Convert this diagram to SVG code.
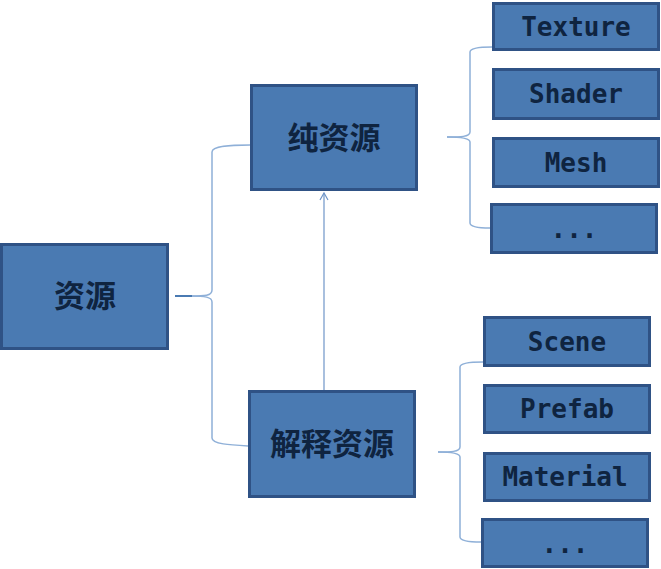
<svg xmlns="http://www.w3.org/2000/svg" width="661" height="569" viewBox="0 0 661 569">
<defs>
<style>
.box{fill:#4a7ab2;stroke:#2f5285;stroke-width:3}
.cn{font-family:"Noto Sans CJK SC",sans-serif;font-size:31px;font-weight:bold;fill:#0f2440;text-anchor:middle}
.en{font-family:"DejaVu Sans Mono",monospace;font-size:26px;font-weight:bold;fill:#0f2440;text-anchor:middle}
.br{fill:none;stroke:#8fb0d8;stroke-width:1.5}
.stub{fill:none;stroke:#4a7ab2;stroke-width:2}
.arr{stroke:#6f95c8;stroke-width:1.2;fill:none}
</style>
<marker id="ah" markerWidth="12" markerHeight="12" refX="9" refY="6" orient="auto" markerUnits="userSpaceOnUse" viewBox="0 0 12 12">
<path d="M2,2 L9,6 L2,10" fill="none" stroke="#6f95c8" stroke-width="1.2"/>
</marker>
</defs>
<g id="connectors">
<path class="br" d="M190,296 C205,296 212,296 212,290 L212,152 C212,146 230,145 250,145"/>
<path class="br" d="M190,296 C205,296 212,297 212,302 L212,438 C212,444 230,445 248,446"/>
<path class="stub" d="M175,296 L192,296"/>
<path class="br" d="M447,137 C460,137 470,137 470,132 L470,52 C470,48 480,47 492,47"/>
<path class="br" d="M447,137 C460,137 470,138 470,142 L470,223 C470,227 480,228 490,228"/>
<path class="br" d="M438,452 C450,452 460,452 460,447 L460,367 C460,363 470,362 483,362"/>
<path class="br" d="M438,452 C450,452 460,453 460,457 L460,537 C460,541 470,542 481,542"/>
<line class="arr" x1="324" y1="390" x2="324" y2="193" marker-end="url(#ah)"/>
</g>
<g id="n-ziyuan"><rect class="box" x="1.5" y="244.5" width="166" height="104"/><text class="cn" x="85" y="307">资源</text></g>
<g id="n-chun"><rect class="box" x="251.5" y="85.5" width="165" height="104"/><text class="cn" x="334" y="149">纯资源</text></g>
<g id="n-jieshi"><rect class="box" x="249.5" y="391.5" width="165" height="105"/><text class="cn" x="332" y="455">解释资源</text></g>
<g id="n-texture"><rect class="box" x="493.5" y="3.5" width="165" height="46"/><text class="en" x="576" y="36">Texture</text></g>
<g id="n-shader"><rect class="box" x="493.5" y="69.5" width="165" height="49"/><text class="en" x="576" y="103">Shader</text></g>
<g id="n-mesh"><rect class="box" x="493.5" y="138.5" width="165" height="48"/><text class="en" x="576" y="172">Mesh</text></g>
<g id="n-etc1"><rect class="box" x="491.5" y="204.5" width="165" height="48"/><text class="en" x="574" y="238">...</text></g>
<g id="n-scene"><rect class="box" x="484.5" y="317.5" width="165" height="48"/><text class="en" x="567" y="351">Scene</text></g>
<g id="n-prefab"><rect class="box" x="484.5" y="385.5" width="165" height="47"/><text class="en" x="567" y="418">Prefab</text></g>
<g id="n-material"><rect class="box" x="484.5" y="453.5" width="165" height="47"/><text class="en" x="565" y="486">Material</text></g>
<g id="n-etc2"><rect class="box" x="482.5" y="519.5" width="165" height="47"/><text class="en" x="565" y="553">...</text></g>
</svg>
